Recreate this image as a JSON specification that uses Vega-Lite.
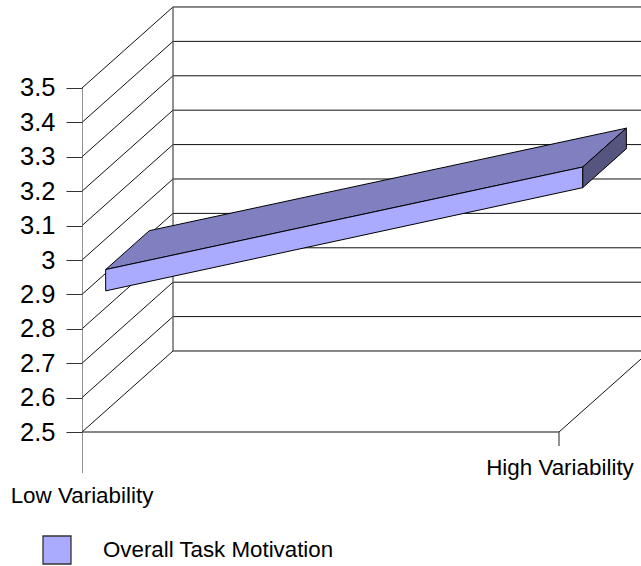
{
 "$schema":"https://vega.github.io/schema/vega-lite/v6.json",
 "width":559,"height":566,"autosize":"none","padding":{"left":82,"top":0,"right":0,"bottom":0},
 "background":"white",
 "config":{"view":{"stroke":null}},
 "datasets":{
  "walls":[
   {"id":"L2.5","value":2.5,"cat":0,"depth":0,"ord":0},{"id":"L2.5","value":2.5,"cat":0,"depth":1,"ord":1},{"id":"L2.5","value":2.5,"cat":1,"depth":1,"ord":2},
   {"id":"L2.6","value":2.6,"cat":0,"depth":0,"ord":0},{"id":"L2.6","value":2.6,"cat":0,"depth":1,"ord":1},{"id":"L2.6","value":2.6,"cat":1,"depth":1,"ord":2},
   {"id":"L2.7","value":2.7,"cat":0,"depth":0,"ord":0},{"id":"L2.7","value":2.7,"cat":0,"depth":1,"ord":1},{"id":"L2.7","value":2.7,"cat":1,"depth":1,"ord":2},
   {"id":"L2.8","value":2.8,"cat":0,"depth":0,"ord":0},{"id":"L2.8","value":2.8,"cat":0,"depth":1,"ord":1},{"id":"L2.8","value":2.8,"cat":1,"depth":1,"ord":2},
   {"id":"L2.9","value":2.9,"cat":0,"depth":0,"ord":0},{"id":"L2.9","value":2.9,"cat":0,"depth":1,"ord":1},{"id":"L2.9","value":2.9,"cat":1,"depth":1,"ord":2},
   {"id":"L3.0","value":3.0,"cat":0,"depth":0,"ord":0},{"id":"L3.0","value":3.0,"cat":0,"depth":1,"ord":1},{"id":"L3.0","value":3.0,"cat":1,"depth":1,"ord":2},
   {"id":"L3.1","value":3.1,"cat":0,"depth":0,"ord":0},{"id":"L3.1","value":3.1,"cat":0,"depth":1,"ord":1},{"id":"L3.1","value":3.1,"cat":1,"depth":1,"ord":2},
   {"id":"L3.2","value":3.2,"cat":0,"depth":0,"ord":0},{"id":"L3.2","value":3.2,"cat":0,"depth":1,"ord":1},{"id":"L3.2","value":3.2,"cat":1,"depth":1,"ord":2},
   {"id":"L3.3","value":3.3,"cat":0,"depth":0,"ord":0},{"id":"L3.3","value":3.3,"cat":0,"depth":1,"ord":1},{"id":"L3.3","value":3.3,"cat":1,"depth":1,"ord":2},
   {"id":"L3.4","value":3.4,"cat":0,"depth":0,"ord":0},{"id":"L3.4","value":3.4,"cat":0,"depth":1,"ord":1},{"id":"L3.4","value":3.4,"cat":1,"depth":1,"ord":2},
   {"id":"L3.5","value":3.5,"cat":0,"depth":0,"ord":0},{"id":"L3.5","value":3.5,"cat":0,"depth":1,"ord":1},{"id":"L3.5","value":3.5,"cat":1,"depth":1,"ord":2},
   {"id":"front","value":2.5,"cat":0,"depth":0,"ord":0},{"id":"front","value":2.5,"cat":1,"depth":0,"ord":1},
   {"id":"floorR","value":2.5,"cat":1,"depth":0,"ord":0},{"id":"floorR","value":2.5,"cat":1,"depth":1,"ord":1}
  ],
  "posts":[
   {"id":"backv","value":2.5,"cat":0,"depth":1,"ord":0},{"id":"backv","value":3.5,"cat":0,"depth":1,"ord":1},
   {"id":"tickR","value":2.5,"cat":1,"depth":0,"ord":0},{"id":"tickR","value":2.459,"cat":1,"depth":0,"ord":1},
   {"id":"yline","value":3.5,"cat":0,"depth":0,"ord":0},{"id":"yline","value":2.381,"cat":0,"depth":0,"ord":1}
  ],
  "ribbon":[
   {"face":"Top","cat":0,"depth":0.26,"value":2.911,"ord":0},{"face":"Top","cat":1,"depth":0.26,"value":3.209,"ord":1},{"face":"Top","cat":1,"depth":0.74,"value":3.209,"ord":2},{"face":"Top","cat":0,"depth":0.74,"value":2.911,"ord":3},{"face":"Top","cat":0,"depth":0.26,"value":2.911,"ord":4},
   {"face":"End","cat":1,"depth":0.26,"value":3.209,"ord":0},{"face":"End","cat":1,"depth":0.74,"value":3.209,"ord":1},{"face":"End","cat":1,"depth":0.74,"value":3.149,"ord":2},{"face":"End","cat":1,"depth":0.26,"value":3.149,"ord":3},{"face":"End","cat":1,"depth":0.26,"value":3.209,"ord":4},
   {"face":"Front","cat":0,"depth":0.26,"value":2.911,"ord":0},{"face":"Front","cat":1,"depth":0.26,"value":3.209,"ord":1},{"face":"Front","cat":1,"depth":0.26,"value":3.149,"ord":2},{"face":"Front","cat":0,"depth":0.26,"value":2.849,"ord":3},{"face":"Front","cat":0,"depth":0.26,"value":2.911,"ord":4}
  ],
  "cats":[{"label":"Low Variability","cat":0,"value":2.314},{"label":"High Variability","cat":1.002,"value":2.395}],
  "leg":[{"series":"Overall Task Motivation"}]
 },
 "layer":[
  {"data":{"name":"walls"},
   "transform":[{"calculate":"datum.cat+datum.depth*0.1908","as":"px"},{"calculate":"datum.value+datum.depth*0.2355","as":"py"}],
   "mark":{"type":"line","stroke":"#111111","strokeWidth":1,"clip":true},
   "encoding":{"x":{"field":"px","type":"quantitative","scale":{"domain":[0,1.1719],"nice":false,"zero":false},"axis":null},
    "y":{"field":"py","type":"quantitative","scale":{"domain":[2.1105,3.7558],"nice":false,"zero":false},
      "axis":{"values":[2.5,2.6,2.7,2.8,2.9,3,3.1,3.2,3.3,3.4,3.5],"format":".1~f","title":null,"domain":false,"ticks":true,"tickSize":16,"tickColor":"#333333","grid":false,"labelFont":"Liberation Sans","labelFontSize":25.5,"labelColor":"black","labelPadding":11}},
    "detail":{"field":"id"},"order":{"field":"ord"}}},
  {"data":{"name":"posts"},
   "transform":[{"calculate":"datum.cat+datum.depth*0.1908","as":"px"},{"calculate":"datum.value+datum.depth*0.2355","as":"py"}],
   "mark":{"type":"line","stroke":"#555555","strokeWidth":1.3,"clip":true},
   "encoding":{"x":{"field":"px","type":"quantitative"},"y":{"field":"py","type":"quantitative"},
    "detail":{"field":"id"},"order":{"field":"ord"}}},
  {"data":{"name":"ribbon"},
   "transform":[{"filter":"datum.face!='Front'"},{"calculate":"datum.cat+datum.depth*0.1908","as":"px"},{"calculate":"datum.value+datum.depth*0.2355","as":"py"}],
   "mark":{"type":"line","strokeWidth":1,"clip":true},
   "encoding":{"x":{"field":"px","type":"quantitative"},"y":{"field":"py","type":"quantitative"},
    "fill":{"field":"face","type":"nominal","scale":{"domain":["Top","End"],"range":["#8080C0","#55557F"]},"legend":null},
    "stroke":{"value":"black"},
    "detail":{"field":"face"},"order":{"field":"ord"}}},
  {"data":{"name":"ribbon"},
   "transform":[{"filter":"datum.face=='Front'"},{"calculate":"datum.cat+datum.depth*0.1908","as":"px"},{"calculate":"datum.value+datum.depth*0.2355","as":"py"}],
   "mark":{"type":"line","strokeWidth":1},
   "encoding":{"x":{"field":"px","type":"quantitative"},"y":{"field":"py","type":"quantitative"},
    "stroke":{"value":"black"},
    "fill":{"value":"#AAAAFF"},
    "order":{"field":"ord"}}},
  {"data":{"name":"cats"},
   "mark":{"type":"text","font":"Liberation Sans","fontSize":22.4,"color":"black","align":"center","baseline":"middle"},
   "encoding":{"x":{"field":"cat","type":"quantitative"},"y":{"field":"value","type":"quantitative"},"text":{"field":"label"}}},
  {"data":{"name":"leg"},
   "mark":{"type":"point","filled":true,"fill":"#AAAAFF","opacity":0},
   "encoding":{"stroke":{"field":"series","type":"nominal","scale":{"range":["#333333"]},"legend":{"orient":"none","legendX":-40,"legendY":535,"title":null,"symbolSize":784,"symbolType":"square","symbolFillColor":"#AAAAFF","symbolStrokeWidth":1.3,"symbolOpacity":1,"labelFont":"Liberation Sans","labelFontSize":22.3,"labelColor":"black","labelOffset":31,"labelLimit":400,"encode":{"labels":{"update":{"dy":{"value":1}}}}}}}}
 ]
}
